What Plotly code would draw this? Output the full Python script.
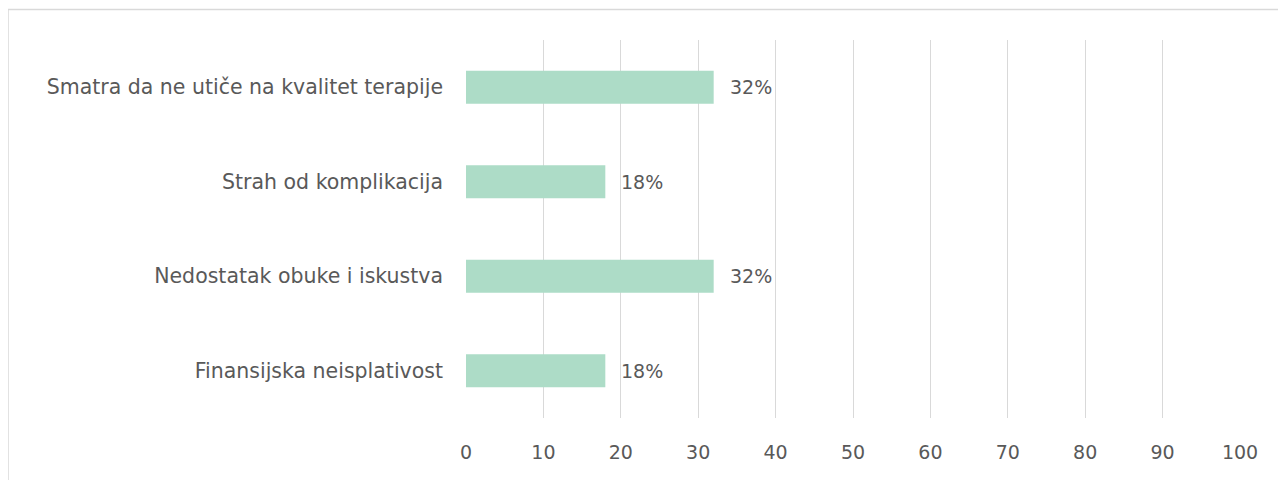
import plotly.graph_objects as go

categories = [
    "Finansijska neisplativost",
    "Nedostatak obuke i iskustva",
    "Strah od komplikacija",
    "Smatra da ne utiče na kvalitet terapije",
]
values = [18, 32, 18, 32]
labels = ["18%", "32%", "18%", "32%"]
x_ticks = [0, 10, 20, 30, 40, 50, 60, 70, 80, 90, 100]

W, H = 1286, 480
L, R, T, B = 458, 54, 32, 70
FONT = "DejaVu Sans"
FS = 19
GRAY = "#595959"

fig = go.Figure(go.Bar(
    y=categories, x=values, orientation="h",
    marker=dict(color="#ADDCC7", line=dict(width=0)),
    width=0.35,
    hoverinfo="skip",
))
for c, v, t in zip(categories, values, labels):
    fig.add_annotation(x=v, y=c, text=t, showarrow=False, xanchor="left",
                       xshift=14, font=dict(family=FONT, size=FS, color=GRAY))

pw = W - L - R
ph = H - T - B
fig.update_layout(
    width=W, height=H,
    margin=dict(l=L, r=R, t=T, b=B),
    paper_bgcolor="white", plot_bgcolor="white",
    showlegend=False,
    font=dict(family=FONT, size=FS, color=GRAY),
    xaxis=dict(range=[0, 100], tickvals=x_ticks, showgrid=True, gridcolor="#D9D9D9",
               gridwidth=1.3, zeroline=False, showline=False, ticks="",
               ticklabelstandoff=21, tickfont=dict(family=FONT, size=FS, color=GRAY)),
    yaxis=dict(showgrid=False, zeroline=False, showline=False, ticks="",
               ticklabelstandoff=22, tickfont=dict(family=FONT, size=20.5, color=GRAY)),
    shapes=[dict(type="rect", xref="paper", yref="paper",
                 x0=(0 - L) / pw, x1=(W + 20 - L) / pw,
                 y0=-(B + 20) / ph, y1=(H - 1.5 - B) / ph,
                 line=dict(color="#D9D9D9", width=1.5), layer="below")],
)
fig.write_html("out.html")
